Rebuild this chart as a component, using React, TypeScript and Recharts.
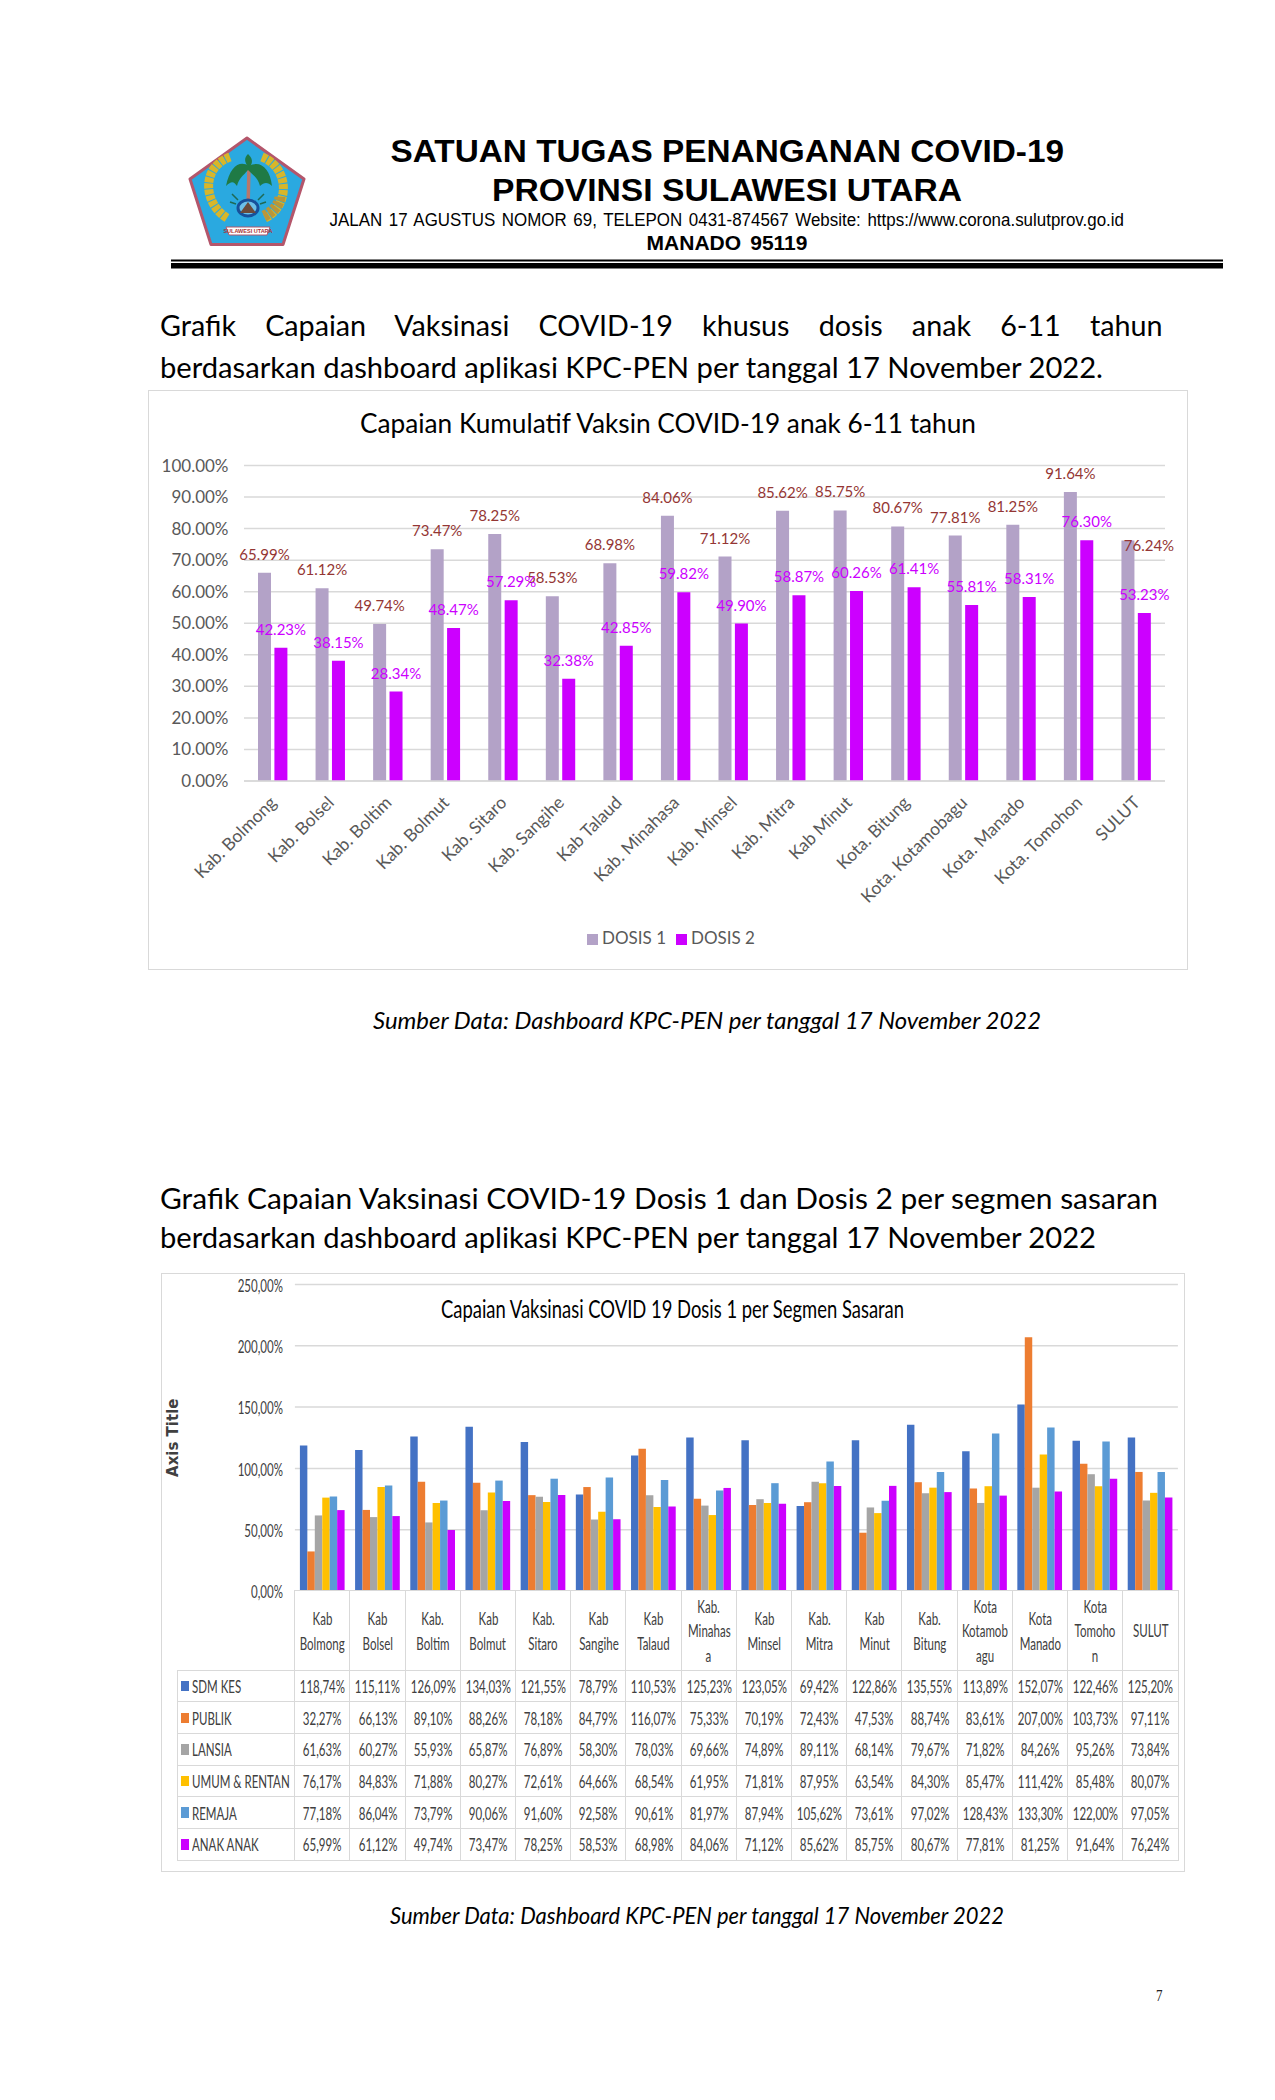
import { BarChart, Bar, XAxis, YAxis, CartesianGrid, Legend, LabelList, Label } from 'recharts'

// Capaian kumulatif anak 6-11 tahun
const wilayah = [
  'Kab. Bolmong', 'Kab. Bolsel', 'Kab. Boltim', 'Kab. Bolmut', 'Kab. Sitaro', 'Kab. Sangihe', 'Kab Talaud', 'Kab. Minahasa',
  'Kab. Minsel', 'Kab. Mitra', 'Kab Minut', 'Kota. Bitung', 'Kota. Kotamobagu', 'Kota. Manado', 'Kota. Tomohon', 'SULUT',
]
const dosis1 = [65.99, 61.12, 49.74, 73.47, 78.25, 58.53, 68.98, 84.06, 71.12, 85.62, 85.75, 80.67, 77.81, 81.25, 91.64, 76.24]
const dosis2 = [42.23, 38.15, 28.34, 48.47, 57.29, 32.38, 42.85, 59.82, 49.9, 58.87, 60.26, 61.41, 55.81, 58.31, 76.3, 53.23]
const ticksAnak = [0, 10, 20, 30, 40, 50, 60, 70, 80, 90, 100]

// Capaian per segmen sasaran
const wilayahTabel = [
  ['Kab', 'Bolmong'], ['Kab', 'Bolsel'], ['Kab.', 'Boltim'], ['Kab', 'Bolmut'], ['Kab.', 'Sitaro'], ['Kab', 'Sangihe'],
  ['Kab', 'Talaud'], ['Kab.', 'Minahas', 'a'], ['Kab', 'Minsel'], ['Kab.', 'Mitra'], ['Kab', 'Minut'], ['Kab.', 'Bitung'],
  ['Kota', 'Kotamob', 'agu'], ['Kota', 'Manado'], ['Kota', 'Tomoho', 'n'], ['SULUT'],
]
const sdmKes = [118.74, 115.11, 126.09, 134.03, 121.55, 78.79, 110.53, 125.23, 123.05, 69.42, 122.86, 135.55, 113.89, 152.07, 122.46, 125.2]
const publik = [32.27, 66.13, 89.1, 88.26, 78.18, 84.79, 116.07, 75.33, 70.19, 72.43, 47.53, 88.74, 83.61, 207, 103.73, 97.11]
const lansia = [61.63, 60.27, 55.93, 65.87, 76.89, 58.3, 78.03, 69.66, 74.89, 89.11, 68.14, 79.67, 71.82, 84.26, 95.26, 73.84]
const umumRentan = [76.17, 84.83, 71.88, 80.27, 72.61, 64.66, 68.54, 61.95, 71.81, 87.95, 63.54, 84.3, 85.47, 111.42, 85.48, 80.07]
const remaja = [77.18, 86.04, 73.79, 90.06, 91.6, 92.58, 90.61, 81.97, 87.94, 105.62, 73.61, 97.02, 128.43, 133.3, 122, 97.05]
const anakAnak = [65.99, 61.12, 49.74, 73.47, 78.25, 58.53, 68.98, 84.06, 71.12, 85.62, 85.75, 80.67, 77.81, 81.25, 91.64, 76.24]
const ticksSegmen = [0, 50, 100, 150, 200, 250]

const segmen = [
  { nama: 'SDM KES', warna: '#4472C4', nilai: sdmKes },
  { nama: 'PUBLIK', warna: '#ED7D31', nilai: publik },
  { nama: 'LANSIA', warna: '#A5A5A5', nilai: lansia },
  { nama: 'UMUM & RENTAN', warna: '#FFC000', nilai: umumRentan },
  { nama: 'REMAJA', warna: '#5B9BD5', nilai: remaja },
  { nama: 'ANAK ANAK', warna: '#CC00FF', nilai: anakAnak },
]

const dataAnak = wilayah.map((w, i) => ({ wilayah: w, d1: dosis1[i], d2: dosis2[i] }))
const dataSegmen = wilayah.map((w, i) => {
  const row: any = { wilayah: w }
  segmen.forEach((s) => (row[s.nama] = s.nilai[i]))
  return row
})

const koma = (v: number) => v.toFixed(2).replace('.', ',') + '%'
const GARIS = '#D9D9D9'

// label data grafik anak: SULUT dosis 1 digeser manual seperti di sumber
const labelAnak = (warna: string, geser?: { index: number; dx: number; dy: number }) => (p: any) => {
  const g = geser && geser.index === p.index ? geser : { dx: 0, dy: 0 }
  return (
    <text
      x={p.x + p.width / 2 + g.dx}
      y={p.y - 19 + g.dy}
      textAnchor="middle"
      dominantBaseline="central"
      fontFamily="Lato"
      fontSize={15}
      fill={warna}
    >
      {p.value.toFixed(2)}%
    </text>
  )
}

const TickSempit = ({ x, y, payload }: any) => (
  <text
    transform={`translate(${x},${y}) scale(0.64,1)`}
    textAnchor="end"
    dominantBaseline="central"
    fontFamily="Lato"
    fontSize={18}
    fill="#404040"
  >
    {koma(payload.value)}
  </text>
)

// sel teks tabel, dipersempit seperti gambar aslinya
const Sempit = ({ children, style }: any) => (
  <span style={{ display: 'inline-block', transform: 'scaleX(0.64)', whiteSpace: 'nowrap', ...style }}>{children}</span>
)

function TabelSegmen() {
  const kiri = 15.7
  const kolomNama = 117.2
  const kolom = 55.2
  const atas = 317
  const tinggiKepala = 79.3
  const baris = 31.65
  const sel: React.CSSProperties = {
    position: 'absolute',
    boxSizing: 'border-box',
    display: 'flex',
    alignItems: 'center',
    justifyContent: 'center',
    border: `1.5px solid ${GARIS}`,
    marginLeft: -0.75,
    marginTop: -0.75,
    fontFamily: 'Lato',
    fontSize: 18,
    color: '#404040',
    background: '#fff',
  }
  return (
    <div>
      {wilayahTabel.map((baris2, i) => (
        <div
          key={i}
          style={{
            ...sel,
            left: kiri + kolomNama + i * kolom,
            top: atas,
            width: kolom + 1.5,
            height: tinggiKepala + 1.5,
            flexDirection: 'column',
            lineHeight: '24.4px',
          }}
        >
          {baris2.map((t) => (
            <Sempit key={t}>{t}</Sempit>
          ))}
        </div>
      ))}
      {segmen.map((s, r) => (
        <div key={s.nama}>
          <div
            style={{
              ...sel,
              left: kiri,
              top: atas + tinggiKepala + r * baris,
              width: kolomNama + 1.5,
              height: baris + 1.5,
              justifyContent: 'flex-start',
            }}
          >
            <div style={{ width: 8, height: 10.5, marginLeft: 3.5, background: s.warna, flex: 'none' }} />
            <Sempit style={{ transformOrigin: 'left center', marginLeft: 2.5 }}>{s.nama}</Sempit>
          </div>
          {s.nilai.map((v, i) => (
            <div
              key={i}
              style={{
                ...sel,
                left: kiri + kolomNama + i * kolom,
                top: atas + tinggiKepala + r * baris,
                width: kolom + 1.5,
                height: baris + 1.5,
              }}
            >
              <Sempit>{koma(v)}</Sempit>
            </div>
          ))}
        </div>
      ))}
    </div>
  )
}

// teks halaman; lebar dikunci ke lebar aslinya
const Teks = ({ x, y, w, size, bold, italic, font = 'Lato', spasi, fill = '#000', anchor = 'start', children }: any) => (
  <text
    x={x}
    y={y}
    textLength={w}
    lengthAdjust="spacingAndGlyphs"
    textAnchor={anchor}
    dominantBaseline="central"
    fontFamily={font}
    fontSize={size}
    fontWeight={bold ? 700 : 400}
    fontStyle={italic ? 'italic' : 'normal'}
    wordSpacing={spasi}
    fill={fill}
  >
    {children}
  </text>
)

// lambang provinsi, digambar sederhana
const Lambang = () => (
  <g transform="translate(180,130)">
    <path d="M67 8 L124 49 L103 114.500 L31 114.500 L10 49 Z" fill="#2AA9E0" stroke="#B4566B" strokeWidth={3} strokeLinejoin="round" />
    <path d="M47 88 C24 74 20 38 50 27" fill="none" stroke="#D8B62A" strokeWidth={9} strokeDasharray="5 1" />
    <path d="M85 88 C110 76 110 38 82 27" fill="none" stroke="#D8B62A" strokeWidth={9} strokeDasharray="5 1" />
    <path d="M84 86 C96 80 100 72 100 66" fill="none" stroke="#B9963A" strokeWidth={11} strokeDasharray="4 1.500" />
    <path d="M68 80 L69 36" stroke="#B9776B" strokeWidth={3.500} />
    <path d="M69 36 C60 30 50 36 46 56 C52 50 54 52 57 56 C59 48 63 46 68 40 C74 46 78 48 80 56 C84 52 88 52 92 56 C90 38 80 30 69 36 Z" fill="#1F7A45" />
    <path d="M69 38 C64 32 64 28 68 24 C72 28 74 32 69 38 Z" fill="#1F7A45" />
    <path d="M58 70 L52 64 M78 70 L84 64 M56 74 L50 72 M80 74 L86 72" stroke="#1F6A55" strokeWidth={1.500} />
    <ellipse cx={68} cy={78} rx={10} ry={8} fill="#6CC0E8" stroke="#17509A" strokeWidth={3} />
    <path d="M68 72 L76 83 L60 83 Z" fill="#6B4A3A" />
    <path d="M46 97 L90 97 L87 105 L49 105 Z" fill="#fff" stroke="#B4566B" strokeWidth={1} />
    <text x={68} y={101} textAnchor="middle" dominantBaseline="central" fontFamily="Liberation Sans" fontWeight={700} fontSize={5.500} fill="#A33">
      SULAWESI UTARA
    </text>
  </g>
)

export default function App() {
  return (
    <div style={{ position: 'absolute', left: 0, top: 0, width: 1275, height: 2100, background: '#fff', overflow: 'hidden' }}>
      {/* Grafik anak 6-11 tahun */}
      <div style={{ position: 'absolute', left: 148, top: 390, width: 1040, height: 580, boxSizing: 'border-box', border: `1.5px solid ${GARIS}` }}>
        <BarChart
          width={1037}
          height={577}
          data={dataAnak}
          barSize={13}
          barGap={3.400}
          margin={{ top: 74.500, right: 21, bottom: 20, left: 0 }}
        >
          <CartesianGrid vertical={false} stroke={GARIS} strokeWidth={1.5} />
          <XAxis
            dataKey="wilayah"
            interval={0}
            angle={-45}
            textAnchor="end"
            height={146}
            stroke={GARIS}
            strokeWidth={1.5}
            tickLine={false}
            tickMargin={8}
            tick={{ fill: '#595959', fontFamily: 'Lato', fontSize: 17.5, dx: -4 }}
          />
          <YAxis
            width={95}
            domain={[0, 100]}
            ticks={ticksAnak}
            interval={0}
            axisLine={false}
            tickLine={false}
            tickMargin={9.500}
            tickFormatter={(v: number) => v.toFixed(2) + '%'}
            tick={{ fill: '#595959', fontFamily: 'Lato', fontSize: 17 }}
          />
          <Legend
            iconType="square"
            iconSize={11}
            wrapperStyle={{ fontFamily: 'Lato', fontSize: 17, paddingLeft: 19 }}
            formatter={(v: string) => <span style={{ color: '#595959' }}>{v}</span>}
          />
          <Bar dataKey="d1" name="DOSIS 1" fill="#B3A2C7" isAnimationActive={false}>
            <LabelList content={labelAnak('#943634', { index: 15, dx: 21, dy: 23.6 })} />
          </Bar>
          <Bar dataKey="d2" name="DOSIS 2" fill="#CC00FF" isAnimationActive={false}>
            <LabelList content={labelAnak('#CC00FF')} />
          </Bar>
        </BarChart>
      </div>

      {/* Grafik per segmen sasaran */}
      <div style={{ position: 'absolute', left: 161, top: 1273, width: 1024, height: 599, boxSizing: 'border-box', border: `1.5px solid ${GARIS}` }}>
        <BarChart
          width={1021}
          height={340}
          data={dataSegmen}
          barSize={7.45}
          barGap={0}
          margin={{ top: 10.500, right: 5.100, bottom: 20, left: 0 }}
        >
          <CartesianGrid vertical={false} stroke={GARIS} strokeWidth={1.5} />
          <XAxis dataKey="wilayah" height={3} interval={0} tick={false} tickLine={false} stroke={GARIS} strokeWidth={1.5} />
          <YAxis
            width={132.900}
            domain={[0, 250]}
            ticks={ticksSegmen}
            interval={0}
            axisLine={false}
            tickLine={false}
            tickMargin={6}
            tick={<TickSempit />}
          >
            <Label
              value="Axis Title"
              angle={-90}
              position="insideLeft"
              offset={11}
              style={{ fontFamily: 'DejaVu Sans', fontWeight: 700, fontSize: 15, fill: '#404040', textAnchor: 'middle' }}
            />
          </YAxis>
          {segmen.map((s) => (
            <Bar key={s.nama} dataKey={s.nama} fill={s.warna} isAnimationActive={false} />
          ))}
        </BarChart>
        <TabelSegmen />
      </div>

      {/* Kop surat dan teks halaman */}
      <svg width={1275} height={2100} style={{ position: 'absolute', left: 0, top: 0, pointerEvents: 'none' }}>
        <Lambang />
        <Teks x={390.5} y={151} w={673.5} size={32} bold font="Liberation Sans">SATUAN TUGAS PENANGANAN COVID-19</Teks>
        <Teks x={492} y={189.5} w={470} size={32} bold font="Liberation Sans">PROVINSI SULAWESI UTARA</Teks>
        <Teks x={329.5} y={219.5} w={794.5} size={17.5} font="Liberation Sans" spasi={2}>
          JALAN 17 AGUSTUS NOMOR 69, TELEPON 0431-874567 Website: https://www.corona.sulutprov.go.id
        </Teks>
        <Teks x={646.5} y={242.5} w={161} size={19.5} bold font="Liberation Sans" spasi={3}>MANADO 95119</Teks>
        <rect x={171} y={259.5} width={1052} height={2} fill="#000" />
        <rect x={171} y={263} width={1052} height={5.5} fill="#000" />

        <Teks x={160} y={324.500} w={1002.5} size={29} spasi={22}>Grafik Capaian Vaksinasi COVID-19 khusus dosis anak 6-11 tahun</Teks>
        <Teks x={160} y={366} w={943} size={29}>berdasarkan dashboard aplikasi KPC-PEN per tanggal 17 November 2022.</Teks>
        <Teks x={360} y={423} w={616} size={26}>Capaian Kumulatif Vaksin COVID-19 anak 6-11 tahun</Teks>
        <Teks x={373} y={1019.500} w={668} size={24} italic>Sumber Data: Dashboard KPC-PEN per tanggal 17 November 2022</Teks>

        <Teks x={160} y={1197.500} w={998} size={29}>Grafik Capaian Vaksinasi COVID-19 Dosis 1 dan Dosis 2 per segmen sasaran</Teks>
        <Teks x={160} y={1236.500} w={936} size={29}>berdasarkan dashboard aplikasi KPC-PEN per tanggal 17 November 2022</Teks>
        <Teks x={441} y={1308} w={463} size={25}>Capaian Vaksinasi COVID 19 Dosis 1 per Segmen Sasaran</Teks>
        <Teks x={390} y={1914.500} w={614} size={24} italic>Sumber Data: Dashboard KPC-PEN per tanggal 17 November 2022</Teks>
        <Teks x={1156} y={1995} w={6.5} size={17} font="Liberation Serif" fill="#222">7</Teks>
      </svg>
    </div>
  )
}
